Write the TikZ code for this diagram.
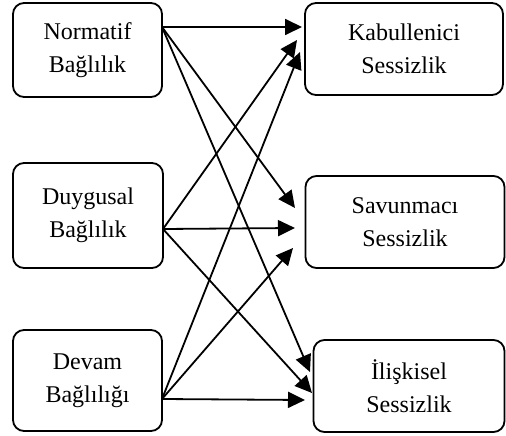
\documentclass[tikz,border=0pt]{standalone}
\usepackage{fontspec}
\setmainfont{Liberation Serif}
\usetikzlibrary{arrows.meta}
\begin{document}
\begin{tikzpicture}[x=1pt,y=-1pt,
  box/.style={draw, line width=1.8pt, rounded corners=11pt, align=center,
    font=\fontsize{24}{33}\selectfont, inner sep=0pt},
  arr/.style={line width=1.8pt, -{Triangle[length=17pt,width=16pt]}}]
\useasboundingbox (0,0) rectangle (506,436);
\node[box, minimum width=149pt, minimum height=94pt] (N) at (87.5,50) {Normatif\\Bağlılık};
\node[box, minimum width=150pt, minimum height=105pt] (D) at (88,215.5) {Duygusal\\Bağlılık};
\node[box, minimum width=149pt, minimum height=101pt] (V) at (87.5,380.5) {Devam\\Bağlılığı};
\node[box, minimum width=198pt, minimum height=92pt] (K) at (404,49) {Kabullenici\\Sessizlik};
\node[box, minimum width=199pt, minimum height=92pt] (S) at (405,222) {Savunmacı\\Sessizlik};
\node[box, minimum width=191pt, minimum height=92pt] (I) at (409,386) {İlişkisel\\Sessizlik};
% origins
\coordinate (n0) at (162,27);
\coordinate (d0) at (163,229);
\coordinate (v0) at (162,399);
% targets
\coordinate (kN) at (302,27);
\coordinate (kD) at (297,40);
\coordinate (kV) at (300,52);
\coordinate (sN) at (295,208);
\coordinate (sD) at (295,228);
\coordinate (sV) at (293,248);
\coordinate (iN) at (310,372);
\coordinate (iD) at (312,393);
\coordinate (iV) at (305,400);
\draw[arr] (n0) -- (kN);
\draw[arr] (n0) -- (sN);
\draw[arr] (n0) -- (iN);
\draw[arr] (d0) -- (kD);
\draw[arr] (d0) -- (sD);
\draw[arr] (d0) -- (iD);
\draw[arr] (v0) -- (kV);
\draw[arr] (v0) -- (sV);
\draw[arr] (v0) -- (iV);
\end{tikzpicture}
\end{document}
